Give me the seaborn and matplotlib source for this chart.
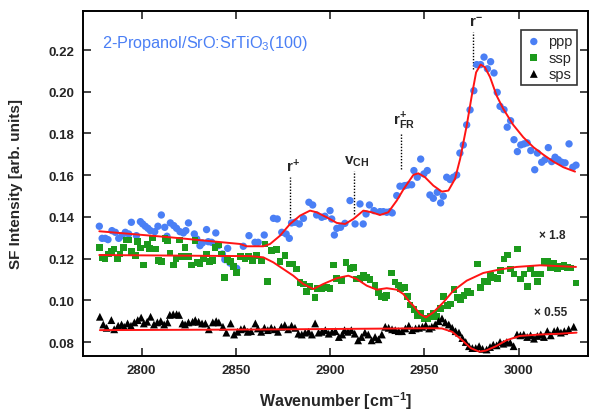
import numpy as np
import pandas as pd
import matplotlib
matplotlib.use("Agg")
import matplotlib.pyplot as plt
import seaborn as sns

# ── ppp (blue circles) ───────────────────────────────────────────────────────
ppp_wn = [2777.6, 2779.1, 2780.8, 2782.2, 2784.3, 2786.1, 2787.9, 2789.7, 2791.4, 2793.2,
          2794.6, 2797.3, 2799.4, 2800.6, 2802.0, 2803.4, 2804.7, 2807.0, 2808.7, 2810.5,
          2812.3, 2813.5, 2815.3, 2817.1, 2818.6, 2820.4, 2822.2, 2823.5, 2824.9, 2828.0,
          2829.3, 2831.0, 2832.3, 2834.5, 2835.4, 2837.2, 2839.4, 2840.7, 2842.9, 2844.2,
          2845.7, 2846.9, 2848.7, 2850.5, 2854.0, 2857.0, 2860.2, 2861.9, 2865.1, 2870.0,
          2872.0, 2874.4, 2876.7, 2878.4, 2879.6, 2881.4, 2883.7, 2885.9, 2888.8, 2890.8,
          2892.9, 2895.6, 2897.3, 2900.0, 2900.9, 2902.3, 2903.6, 2905.6, 2907.9, 2910.6,
          2913.3, 2915.9, 2917.6, 2919.1, 2920.9, 2923.3, 2926.5, 2928.3, 2930.1, 2931.9,
          2933.0, 2935.4, 2937.1, 2938.9, 2939.8, 2941.5, 2943.3, 2944.5, 2946.3, 2948.1,
          2949.8, 2951.6, 2953.0, 2954.8, 2956.9, 2958.7, 2960.1, 2961.9, 2963.7, 2965.4,
          2967.2, 2968.9, 2970.7, 2972.5, 2974.3, 2976.3, 2977.8, 2979.9, 2981.7, 2983.5,
          2985.2, 2987.0, 2988.7, 2990.2, 2992.3, 2994.0, 2995.8, 2997.6, 2999.4, 3001.2,
          3002.9, 3004.6, 3006.5, 3008.6, 3010.0, 3012.3, 3014.0, 3015.8, 3017.6, 3019.4,
          3021.1, 3022.9, 3024.7, 3026.8, 3028.8, 3030.5]
ppp_val = [0.1355, 0.1297, 0.1297, 0.1291, 0.1334, 0.1326, 0.1297, 0.1310, 0.1326, 0.1318,
           0.1374, 0.1310, 0.1377, 0.1366, 0.1355, 0.1345, 0.1334, 0.1329, 0.1355, 0.1409,
           0.1350, 0.1307, 0.1371, 0.1358, 0.1345, 0.1329, 0.1323, 0.1334, 0.1371, 0.1318,
           0.1294, 0.1262, 0.1275, 0.1339, 0.1281, 0.1278, 0.1323, 0.1262, 0.1222, 0.1195,
           0.1249, 0.1179, 0.1163, 0.1153, 0.1259, 0.1310, 0.1278, 0.1278, 0.1313, 0.1393,
           0.1390, 0.1326, 0.1318, 0.1297, 0.1371, 0.1374, 0.1366, 0.1393, 0.1470, 0.1457,
           0.1409, 0.1398, 0.1403, 0.1430, 0.1390, 0.1313, 0.1345, 0.1350, 0.1369, 0.1478,
           0.1366, 0.1462, 0.1366, 0.1414, 0.1457, 0.1430, 0.1425, 0.1425, 0.1422, 0.1425,
           0.1419, 0.1502, 0.1547, 0.1547, 0.1550, 0.1553, 0.1554, 0.1622, 0.1590, 0.1677,
           0.1606, 0.1622, 0.1505, 0.1489, 0.1518, 0.1467, 0.1499, 0.1590, 0.1579, 0.1590,
           0.1601, 0.1706, 0.1745, 0.1841, 0.1913, 0.2005, 0.2130, 0.2130, 0.2166, 0.2110,
           0.2144, 0.2090, 0.1997, 0.1930, 0.1914, 0.1830, 0.1861, 0.1770, 0.1713, 0.1745,
           0.1750, 0.1755, 0.1718, 0.1626, 0.1706, 0.1662, 0.1674, 0.1732, 0.1665, 0.1686,
           0.1674, 0.1662, 0.1659, 0.1750, 0.1638, 0.1648]

# ── ssp (green squares, x 1.8) ───────────────────────────────────────────────
ssp_wn = [2777.6, 2779.4, 2780.6, 2782.4, 2784.2, 2785.4, 2787.2, 2788.6, 2790.3, 2792.1,
          2793.4, 2794.8, 2796.6, 2797.8, 2799.6, 2801.0, 2803.1, 2804.1, 2805.9, 2807.7,
          2808.9, 2810.7, 2812.5, 2813.7, 2815.1, 2816.9, 2818.3, 2820.1, 2821.3, 2823.1,
          2824.8, 2826.6, 2828.4, 2829.6, 2831.0, 2832.8, 2834.6, 2836.0, 2837.8, 2839.0,
          2840.7, 2842.5, 2843.9, 2845.7, 2847.3, 2848.7, 2850.5, 2852.3, 2854.9, 2856.7,
          2859.0, 2861.1, 2863.8, 2865.5, 2867.0, 2869.1, 2871.7, 2873.5, 2876.1, 2878.4,
          2880.2, 2882.3, 2884.1, 2885.8, 2887.6, 2889.4, 2892.0, 2893.3, 2895.6, 2898.2,
          2900.0, 2901.8, 2903.6, 2906.2, 2908.5, 2910.6, 2912.4, 2914.2, 2915.9, 2917.7,
          2919.5, 2921.2, 2923.9, 2925.6, 2927.4, 2929.2, 2930.1, 2932.7, 2934.5, 2936.2,
          2937.5, 2939.3, 2941.0, 2942.4, 2944.6, 2946.3, 2948.1, 2949.9, 2951.6, 2953.4,
          2954.8, 2956.6, 2958.7, 2960.1, 2962.2, 2964.0, 2965.8, 2967.5, 2969.3, 2971.1,
          2972.8, 2974.6, 2978.1, 2979.9, 2981.7, 2983.4, 2985.3, 2987.0, 2988.8, 2990.6,
          2992.3, 2994.1, 2995.9, 2997.6, 2999.4, 3001.2, 3002.9, 3004.7, 3006.5, 3008.2,
          3010.0, 3011.8, 3013.5, 3015.3, 3017.1, 3018.8, 3020.6, 3022.4, 3024.1, 3025.9,
          3027.6, 3030.5]
ssp_val = [0.1254, 0.1206, 0.1201, 0.1222, 0.1233, 0.1246, 0.1201, 0.1222, 0.1254, 0.1289,
           0.1289, 0.1233, 0.1214, 0.1281, 0.1251, 0.1169, 0.1267, 0.1249, 0.1299, 0.1246,
           0.1190, 0.1185, 0.1297, 0.1284, 0.1227, 0.1169, 0.1198, 0.1289, 0.1211, 0.1254,
           0.1211, 0.1169, 0.1286, 0.1182, 0.1174, 0.1198, 0.1222, 0.1185, 0.1190, 0.1254,
           0.1265, 0.1222, 0.1108, 0.1195, 0.1185, 0.1163, 0.1134, 0.1210, 0.1201, 0.1209,
           0.1190, 0.1214, 0.1190, 0.1270, 0.1089, 0.1238, 0.1243, 0.1185, 0.1214, 0.1174,
           0.1174, 0.1150, 0.1086, 0.1078, 0.1041, 0.1067, 0.1014, 0.1058, 0.1058, 0.1062,
           0.1058, 0.1169, 0.1106, 0.1094, 0.1182, 0.1154, 0.1158, 0.1102, 0.1106, 0.1118,
           0.1110, 0.1099, 0.1070, 0.1035, 0.1019, 0.1014, 0.1022, 0.1131, 0.1088, 0.1073,
           0.1054, 0.1060, 0.1019, 0.0977, 0.0955, 0.0926, 0.0939, 0.0914, 0.0910, 0.0923,
           0.0939, 0.0923, 0.0962, 0.1019, 0.0974, 0.0982, 0.1051, 0.1014, 0.1003, 0.1022,
           0.1041, 0.1035, 0.1174, 0.1062, 0.1089, 0.1089, 0.1121, 0.1110, 0.1106, 0.1142,
           0.1198, 0.1217, 0.1150, 0.1126, 0.1246, 0.1102, 0.1126, 0.1067, 0.1150, 0.1126,
           0.1089, 0.1126, 0.1185, 0.1185, 0.1158, 0.1179, 0.1150, 0.1163, 0.1166, 0.1158,
           0.1155, 0.1083]

# ── sps (black triangles, x 0.55) ────────────────────────────────────────────
sps_wn = [2777.9, 2779.7, 2781.5, 2784.0, 2785.5, 2787.6, 2789.4, 2790.8, 2792.6, 2794.4,
          2796.2, 2798.0, 2799.8, 2801.2, 2803.0, 2804.8, 2806.6, 2808.4, 2810.2, 2812.0,
          2813.8, 2815.0, 2816.8, 2818.6, 2819.9, 2821.7, 2823.1, 2824.9, 2827.1, 2828.5,
          2830.3, 2832.1, 2833.9, 2835.7, 2837.8, 2839.6, 2841.0, 2843.2, 2845.0, 2847.3,
          2849.1, 2850.9, 2852.7, 2854.5, 2856.3, 2858.1, 2860.4, 2861.7, 2863.5, 2865.2,
          2867.0, 2868.8, 2870.6, 2872.4, 2874.2, 2876.0, 2877.8, 2879.6, 2881.4, 2883.2,
          2885.0, 2886.8, 2888.6, 2890.4, 2892.1, 2893.9, 2895.7, 2897.5, 2899.3, 2901.1,
          2902.9, 2904.7, 2906.5, 2907.7, 2909.5, 2911.3, 2913.1, 2914.9, 2916.7, 2918.5,
          2920.3, 2922.1, 2923.9, 2925.7, 2927.5, 2929.3, 2931.1, 2932.9, 2934.6, 2936.4,
          2938.2, 2940.0, 2941.8, 2943.6, 2945.4, 2947.2, 2949.0, 2950.8, 2952.6, 2954.0,
          2955.8, 2957.6, 2959.4, 2961.2, 2963.0, 2964.8, 2966.6, 2968.4, 2970.2, 2972.0,
          2973.7, 2975.5, 2977.3, 2979.1, 2980.9, 2983.1, 2984.9, 2986.6, 2988.4, 2990.2,
          2992.0, 2993.8, 2995.6, 2997.4, 2999.2, 3001.0, 3002.8, 3004.6, 3006.4, 3008.2,
          3010.0, 3011.8, 3013.5, 3015.3, 3017.1, 3018.9, 3020.7, 3022.5, 3024.3, 3026.6,
          3029.3]
sps_val = [0.0921, 0.0884, 0.0868, 0.0905, 0.0861, 0.0878, 0.0884, 0.0873, 0.0889, 0.0878,
           0.0894, 0.0905, 0.0917, 0.0889, 0.0897, 0.0921, 0.0884, 0.0894, 0.0900, 0.0884,
           0.0894, 0.0930, 0.0933, 0.0933, 0.0930, 0.0889, 0.0884, 0.0894, 0.0897, 0.0905,
           0.0897, 0.0889, 0.0889, 0.0861, 0.0894, 0.0900, 0.0894, 0.0873, 0.0845, 0.0889,
           0.0836, 0.0849, 0.0861, 0.0865, 0.0849, 0.0852, 0.0889, 0.0865, 0.0849, 0.0868,
           0.0857, 0.0868, 0.0861, 0.0849, 0.0873, 0.0881, 0.0861, 0.0878, 0.0868, 0.0840,
           0.0836, 0.0845, 0.0849, 0.0836, 0.0889, 0.0845, 0.0849, 0.0857, 0.0840, 0.0849,
           0.0852, 0.0824, 0.0836, 0.0857, 0.0849, 0.0857, 0.0840, 0.0808, 0.0824, 0.0845,
           0.0836, 0.0808, 0.0824, 0.0813, 0.0836, 0.0873, 0.0868, 0.0861, 0.0857, 0.0852,
           0.0852, 0.0865, 0.0878, 0.0857, 0.0865, 0.0868, 0.0873, 0.0881, 0.0865, 0.0873,
           0.0884, 0.0900, 0.0913, 0.0894, 0.0884, 0.0868, 0.0852, 0.0845, 0.0819, 0.0800,
           0.0780, 0.0771, 0.0771, 0.0780, 0.0767, 0.0764, 0.0776, 0.0787, 0.0784, 0.0800,
           0.0792, 0.0800, 0.0797, 0.0780, 0.0836, 0.0832, 0.0836, 0.0824, 0.0832, 0.0816,
           0.0829, 0.0836, 0.0824, 0.0852, 0.0832, 0.0852, 0.0857, 0.0845, 0.0852, 0.0861,
           0.0873]

# ── fit curves ───────────────────────────────────────────────────────────────
fit_ppp_wn = [2777.6, 2815.2, 2852.3, 2855.8, 2864.6, 2868.2, 2873.5, 2878.8, 2884.1, 2889.4,
              2892.9, 2898.2, 2903.6, 2908.0, 2912.4, 2917.7, 2922.1, 2926.5, 2930.9, 2935.4,
              2938.9, 2944.2, 2946.8, 2950.4, 2954.8, 2959.3, 2962.8, 2966.3, 2969.0, 2972.5,
              2975.2, 2977.5, 2979.9, 2982.2, 2984.9, 2988.4, 2991.9, 2997.2, 3002.5, 3007.9,
              3013.2, 3018.5, 3023.8, 3030.0]
fit_ppp_val = [0.1331, 0.1302, 0.1270, 0.1259, 0.1259, 0.1270, 0.1310, 0.1366, 0.1406, 0.1430,
               0.1422, 0.1398, 0.1371, 0.1366, 0.1390, 0.1430, 0.1422, 0.1409, 0.1422, 0.1478,
               0.1531, 0.1601, 0.1609, 0.1590, 0.1550, 0.1521, 0.1526, 0.1582, 0.1677, 0.1837,
               0.1981, 0.2093, 0.2130, 0.2117, 0.2070, 0.1981, 0.1918, 0.1841, 0.1782, 0.1734,
               0.1698, 0.1665, 0.1638, 0.1617]

fit_ssp_wn = [2777.6, 2852.3, 2857.6, 2864.6, 2869.9, 2875.2, 2880.5, 2885.8, 2891.1, 2896.4,
              2903.6, 2909.7, 2914.2, 2919.5, 2924.8, 2930.1, 2935.4, 2938.9, 2942.4, 2944.2,
              2947.7, 2950.9, 2954.8, 2960.1, 2965.4, 2972.5, 2981.3, 2990.2, 2999.0, 3011.4,
              3030.5]
fit_ssp_val = [0.1217, 0.1212, 0.1212, 0.1206, 0.1182, 0.1150, 0.1118, 0.1078, 0.1054, 0.1078,
               0.1106, 0.1118, 0.1102, 0.1070, 0.1051, 0.1058, 0.1051, 0.1030, 0.0990, 0.0974,
               0.0934, 0.0918, 0.0942, 0.0990, 0.1046, 0.1094, 0.1131, 0.1148, 0.1160, 0.1168,
               0.1160]

fit_sps_wn = [2777.9, 2864.4, 2954.0, 2959.4, 2964.8, 2970.2, 2974.6, 2979.1, 2982.7, 2988.1,
              2993.5, 3000.6, 3011.4, 3022.2, 3030.8]
fit_sps_val = [0.0857, 0.0860, 0.0866, 0.0865, 0.0849, 0.0808, 0.0771, 0.0754, 0.0759, 0.0780,
               0.0808, 0.0829, 0.0836, 0.0840, 0.0845]

# band positions marked with dotted lines
band_labels = [r"$\mathbf{r^{+}}$", r"$\mathbf{v_{CH}}$", r"$\mathbf{r^{+}_{FR}}$", r"$\mathbf{r^{-}}$"]
band_wn = [2878.8, 2912.7, 2937.7, 2975.9]

# ── plot ────────────────────────────────────────────────────────────────────
sns.set_theme(style="ticks")
plt.rcParams["font.family"] = ["Liberation Sans", "DejaVu Sans"]
plt.rcParams["mathtext.fontset"] = "custom"
plt.rcParams["mathtext.rm"] = "Liberation Sans"
plt.rcParams["mathtext.bf"] = "Liberation Sans:bold"
plt.rcParams["mathtext.it"] = "Liberation Sans:italic"

fig = plt.figure(figsize=(5.93, 4.10), dpi=100)
ax = fig.add_axes([0.1395, 0.1293, 0.8525, 0.8414])

blue, green, red = "#4a7ff5", "#1c9a1c", "#ff1414"

for wn, val in [(fit_ppp_wn, fit_ppp_val), (fit_ssp_wn, fit_ssp_val), (fit_sps_wn, fit_sps_val)]:
    sns.lineplot(x=wn, y=val, ax=ax, color=red, lw=1.4, sort=False, estimator=None, zorder=4)

sns.scatterplot(x=ppp_wn, y=ppp_val, ax=ax, marker="o", color=blue, s=28,
                edgecolor="none", label="ppp", zorder=3)
sns.scatterplot(x=ssp_wn, y=ssp_val, ax=ax, marker="s", color=green, s=24,
                edgecolor="none", label="ssp", zorder=3)
sns.scatterplot(x=sps_wn, y=sps_val, ax=ax, marker="^", color="black", s=32,
                edgecolor="none", label="sps", zorder=3)

# dotted markers + labels for the bands
tops = [0.1591, 0.1620, 0.1798, 0.2287]
bots = [0.1380, 0.1414, 0.1630, 0.2109]
for lab, wn, top, bot in zip(band_labels, band_wn, tops, bots):
    ax.plot([wn, wn], [bot, top], color="black", ls=(0, (1, 1.2)), lw=1.0)
    ax.text(wn + 1.5, top + 0.0012, lab, ha="center", va="bottom", fontsize=11)

ax.text(0.038, 0.910, r"2-Propanol/SrO:SrTiO$_3$(100)", transform=ax.transAxes,
        color=blue, fontsize=11.7, ha="left", va="center")
ax.text(3018, 0.1313, "× 1.8", fontsize=8.5, fontweight="bold", ha="center", va="center")
ax.text(3017, 0.0944, "× 0.55", fontsize=8.5, fontweight="bold", ha="center", va="center")

ax.set_xlim(2768.8, 3037.0)
ax.set_ylim(0.0733, 0.2387)
ax.set_xticks([2800, 2850, 2900, 2950, 3000])
ax.set_yticks(np.arange(0.08, 0.221, 0.02))
ax.set_yticklabels([f"{v:.2f}" for v in np.arange(0.08, 0.221, 0.02)])
ax.tick_params(direction="in", length=6, width=1.2, top=True, right=True,
               labelsize=9.5, pad=6)
for lbl in ax.get_xticklabels() + ax.get_yticklabels():
    lbl.set_fontweight("bold")
for sp in ax.spines.values():
    sp.set_linewidth(1.4)
    sp.set_color("black")

ax.set_xlabel("Wavenumber [cm$^{\\mathbf{-1}}$]", fontsize=11.5, fontweight="bold", labelpad=9)
ax.set_ylabel("SF Intensity [arb. units]", fontsize=11, fontweight="bold", labelpad=18)

leg = ax.legend(loc="upper right", bbox_to_anchor=(0.978, 0.945), borderaxespad=0,
                frameon=True, fancybox=False, edgecolor="black", fontsize=10.5,
                handletextpad=0.4, labelspacing=0.15, borderpad=0.3, handlelength=1.2)
leg.get_frame().set_linewidth(1.2)

fig.savefig("out.png", dpi=100)
